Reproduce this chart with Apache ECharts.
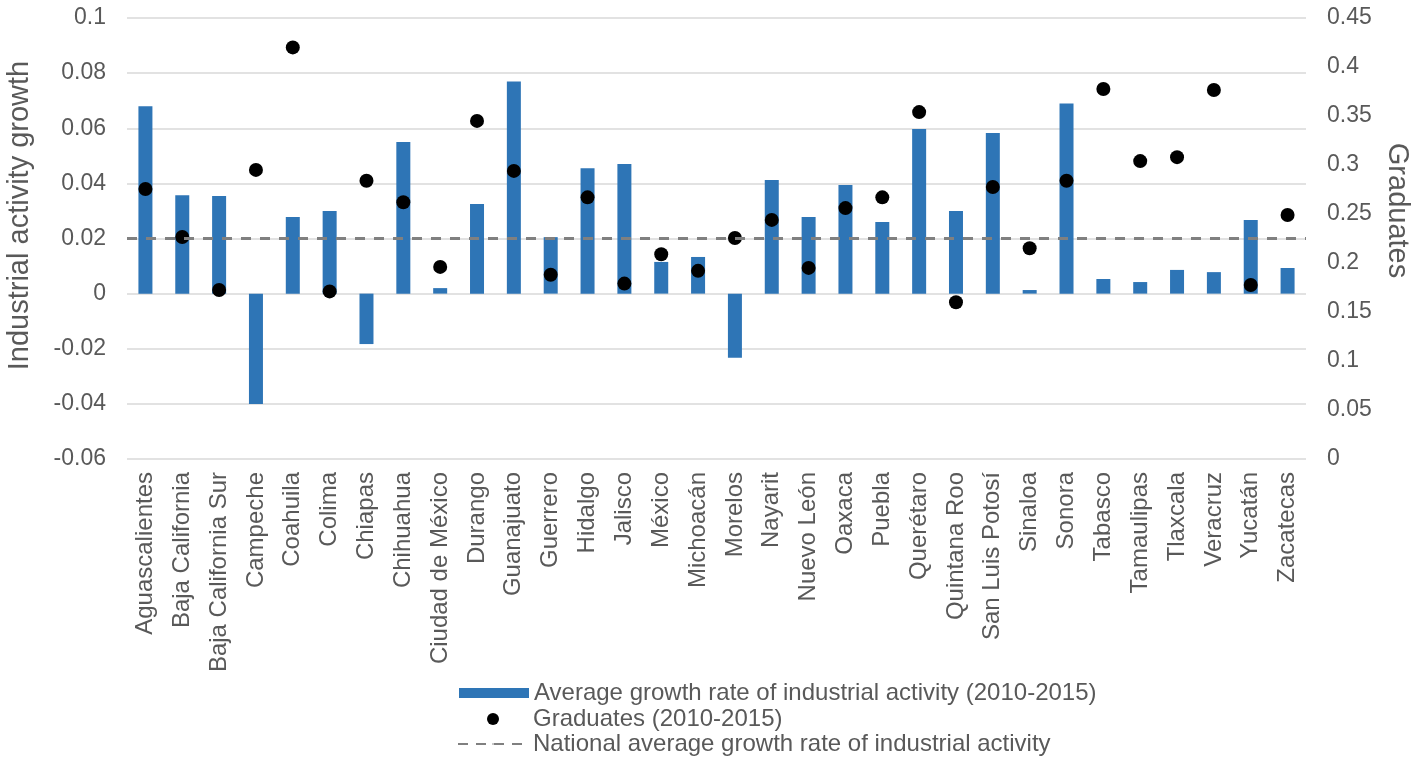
<!DOCTYPE html>
<html>
<head>
<meta charset="utf-8">
<script src="https://cdn.jsdelivr.net/npm/echarts@6/dist/echarts.min.js"></script>
<style>
  html, body { margin: 0; padding: 0; background: #fff; }
  #chart { width: 1422px; height: 757px; }
</style>
</head>
<body>
<div id="chart"></div>
<script>
// estados de México
const states = [
  "Aguascalientes", "Baja California", "Baja California Sur", "Campeche", "Coahuila",
  "Colima", "Chiapas", "Chihuahua", "Ciudad de México", "Durango", "Guanajuato",
  "Guerrero", "Hidalgo", "Jalisco", "México", "Michoacán", "Morelos", "Nayarit",
  "Nuevo León", "Oaxaca", "Puebla", "Querétaro", "Quintana Roo", "San Luis Potosí",
  "Sinaloa", "Sonora", "Tabasco", "Tamaulipas", "Tlaxcala", "Veracruz", "Yucatán", "Zacatecas"
];

// crecimiento promedio de la actividad industrial (eje izquierdo)
const growthRate = [
  0.068, 0.0357, 0.0354, -0.040, 0.0278, 0.030, -0.0183, 0.055, 0.002, 0.0325, 0.077,
  0.0205, 0.0455, 0.047, 0.0115, 0.0133, -0.0233, 0.0412, 0.0278, 0.0394, 0.026, 0.0597,
  0.030, 0.0583, 0.0013, 0.0690, 0.0053, 0.0042, 0.0086, 0.0078, 0.0267, 0.0093
];

// egresados (eje derecho)
const graduates = [
  0.2755, 0.2265, 0.1724, 0.295, 0.420, 0.171, 0.284, 0.262, 0.196, 0.345, 0.294,
  0.188, 0.267, 0.179, 0.209, 0.192, 0.2255, 0.244, 0.195, 0.256, 0.267, 0.354,
  0.160, 0.2776, 0.215, 0.284, 0.3776, 0.304, 0.308, 0.3765, 0.1776, 0.249
];

const nationalAvg = 0.02;

const leftTicks = { min: -0.06, max: 0.1, interval: 0.02 };
const rightTicks = { min: 0, max: 0.45, interval: 0.05 };

const barName = "Average growth rate of industrial activity (2010-2015)";
const dotName = "Graduates (2010-2015)";
const lineName = "National average growth rate of industrial activity";

const chart = echarts.init(document.getElementById("chart"));
const font = "'Liberation Sans', Arial, sans-serif";
const grey = "#595959";

function fmt(v) {
  return String(parseFloat(v.toFixed(2)));
}

// una leyenda por fila para controlar el tamaño del icono
function legendRow(name, left, top, h, icon) {
  const row = {
    orient: "vertical",
    left: left,
    top: top,
    itemWidth: 70,
    itemHeight: h,
    selectedMode: false,
    textStyle: { fontSize: 24, color: grey, fontFamily: font },
    data: [icon ? { name: name, icon: icon } : name]
  };
  return row;
}

chart.setOption({
  animation: false,
  textStyle: { fontFamily: font },
  grid: { left: 127, right: 116, top: 18, bottom: 298, outerBoundsMode: "none" },
  legend: [
    legendRow(barName, 454, 676, 10, "rect"),
    legendRow(dotName, 482, 702, 12),
    legendRow(lineName, 452, 727, 2)
  ],
  xAxis: {
    type: "category",
    data: states,
    axisLine: { show: false },
    axisTick: { show: false },
    axisLabel: {
      rotate: 90,
      interval: 0,
      margin: 13,
      fontSize: 24,
      color: grey,
      fontFamily: font
    }
  },
  yAxis: [
    {
      type: "value",
      min: leftTicks.min,
      max: leftTicks.max,
      interval: leftTicks.interval,
      name: "Industrial activity growth",
      nameLocation: "middle",
      nameGap: 93,
      nameTextStyle: { fontSize: 29, color: grey, fontFamily: font, padding: [0, 0, 0, 46] },
      axisLine: { show: false },
      axisTick: { show: false },
      axisLabel: { fontSize: 23, color: grey, margin: 21, formatter: fmt },
      splitLine: { lineStyle: { color: "#d9d9d9", width: 1.5 } }
    },
    {
      type: "value",
      min: rightTicks.min,
      max: rightTicks.max,
      interval: rightTicks.interval,
      name: "Graduates",
      nameLocation: "middle",
      nameGap: 75,
      nameRotate: -90,
      nameTextStyle: { fontSize: 29, color: grey, fontFamily: font, padding: [0, 56, 0, 0] },
      axisLine: { show: false },
      axisTick: { show: false },
      axisLabel: { fontSize: 23, color: grey, margin: 21, formatter: fmt },
      splitLine: { show: false }
    }
  ],
  series: [
    {
      name: barName,
      type: "bar",
      yAxisIndex: 0,
      barWidth: 14,
      itemStyle: { color: "#2e75b6" },
      data: growthRate
    },
    {
      name: lineName,
      type: "line",
      yAxisIndex: 0,
      symbol: "none",
      data: [],
      lineStyle: { color: "#808080", width: 3, type: [10, 8] },
      itemStyle: { color: "#808080" },
      markLine: {
        silent: true,
        symbol: "none",
        label: { show: false },
        lineStyle: { color: "#808080", width: 3, type: [10, 9] },
        data: [{ yAxis: nationalAvg }]
      }
    },
    {
      name: dotName,
      type: "scatter",
      yAxisIndex: 1,
      symbol: "circle",
      symbolSize: 14,
      itemStyle: { color: "#000", opacity: 1 },
      data: graduates
    }
  ]
});

window.addEventListener("resize", () => chart.resize());
</script>
</body>
</html>
